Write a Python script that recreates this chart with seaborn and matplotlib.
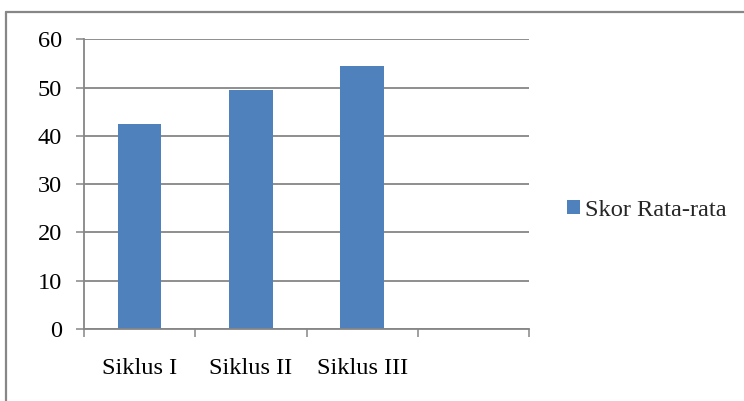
import numpy as np
import pandas as pd
import matplotlib
matplotlib.use("Agg")
import matplotlib.pyplot as plt
from matplotlib.lines import Line2D
from matplotlib.ticker import FixedLocator, NullFormatter
import seaborn as sns

# Average score per cycle
categories = ["Siklus I", "Siklus II", "Siklus III"]
scores = [42.5, 49.5, 54.5]
series_label = "Skor Rata-rata"
y_ticks = [0, 10, 20, 30, 40, 50, 60]

sns.set_theme(style="white")
plt.rcParams["font.family"] = ["Liberation Serif", "DejaVu Serif"]

GRAY = "#868686"
BLUE = "#4F81BD"
FS = 17.6

df = pd.DataFrame({"Siklus": categories, "Skor": scores})

fig = plt.figure(figsize=(7.44, 4.01), dpi=100)
ax = fig.add_axes([84 / 744, 1 - 329 / 401, (529 - 84) / 744, (329 - 39.5) / 401])

sns.barplot(data=df, x="Siklus", y="Skor", color=BLUE, width=0.39,
            saturation=1, ax=ax, label=series_label, edgecolor="none")

ax.set_xlim(-0.5, 3.5)
ax.set_ylim(0, 60)
ax.set_xlabel("")
ax.set_ylabel("")

# horizontal gridlines
ax.set_yticks(y_ticks)
ax.yaxis.grid(True, color=GRAY, linewidth=1.3)
ax.set_axisbelow(True)
ax.tick_params(axis="y", which="major", direction="out", length=5.5, width=1.1,
               color=GRAY, left=True, labelsize=FS, pad=10.5, labelcolor="black")

# category boundary ticks, labels at centers
ax.xaxis.set_major_locator(FixedLocator([-0.5, 0.5, 1.5, 2.5, 3.5]))
ax.xaxis.set_major_formatter(NullFormatter())
ax.xaxis.set_minor_locator(FixedLocator([0, 1, 2]))
ax.set_xticklabels(categories, minor=True)
ax.tick_params(axis="x", which="major", direction="out", length=6, width=1.1,
               color=GRAY, bottom=True)
ax.tick_params(axis="x", which="minor", length=0, labelsize=FS, pad=21,
               labelcolor="black")

for side in ["top", "right"]:
    ax.spines[side].set_visible(False)
for side in ["left", "bottom"]:
    ax.spines[side].set_color(GRAY)
    ax.spines[side].set_linewidth(1.3)

ax.legend(loc="center left", bbox_to_anchor=(567 / 744, 1 - 210 / 401),
          bbox_transform=fig.transFigure, frameon=False, fontsize=FS,
          handlelength=0.52, handleheight=0.52, handletextpad=0.22,
          borderpad=0, borderaxespad=0)

# chart frame
fig.add_artist(Line2D([6.5 / 744, 1.0], [1 - 11.5 / 401] * 2,
                      transform=fig.transFigure, color="#878787", linewidth=1.6))
fig.add_artist(Line2D([6.5 / 744] * 2, [0.0, 1 - 11.5 / 401],
                      transform=fig.transFigure, color="#878787", linewidth=1.6))

fig.savefig("out.png", dpi=100, facecolor="white")
